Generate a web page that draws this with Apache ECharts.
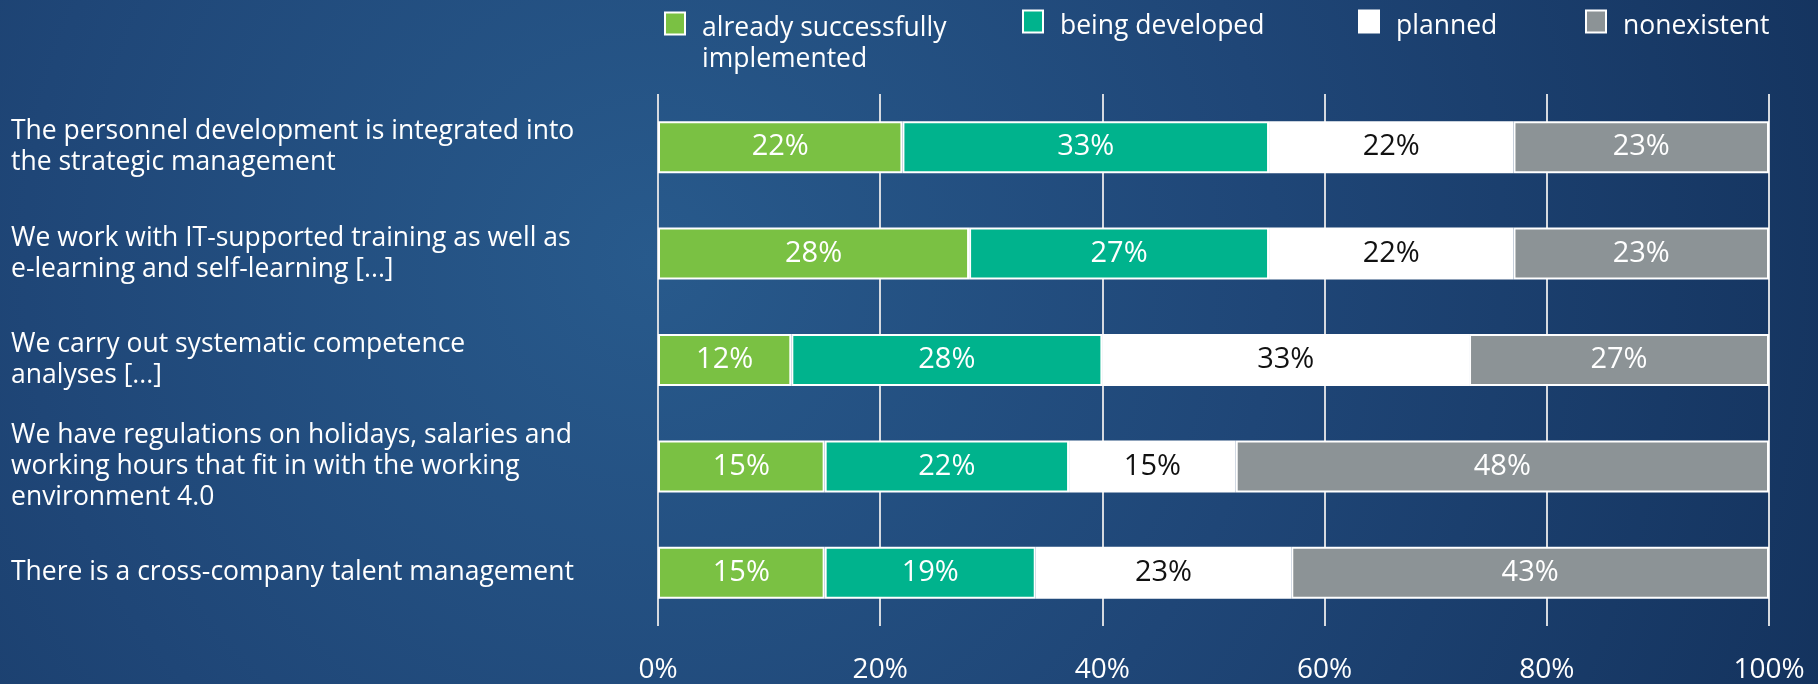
<!DOCTYPE html>
<html>
<head>
<meta charset="utf-8">
<style>
  html, body { margin: 0; padding: 0; width: 1818px; height: 684px; overflow: hidden; }
  #chart { width: 1818px; height: 684px; }
</style>
<script src="https://cdn.jsdelivr.net/npm/echarts@6/dist/echarts.min.js"></script>
</head>
<body>
<div id="chart"></div>
<script>
// Statements, top to bottom
const categories = [
  'The personnel development is integrated into\nthe strategic management',
  'We work with IT-supported training as well as\ne-learning and self-learning [...]',
  'We carry out systematic competence\nanalyses [...]',
  'We have regulations on holidays, salaries and\nworking hours that fit in with the working\nenvironment 4.0',
  'There is a cross-company talent management'
];

// Share of answers per statement (%)
const implemented = [22, 28, 12, 15, 15];
const developed   = [33, 27, 28, 22, 19];
const planned     = [22, 22, 33, 15, 23];
const nonexistent = [23, 23, 27, 48, 43];

const seriesNames = ['already successfully implemented', 'being developed', 'planned', 'nonexistent'];
const seriesColors = ['#7ac143', '#00b38d', '#ffffff', '#8c9396'];
const labelColors = ['#ffffff', '#ffffff', '#111111', '#ffffff'];
const xTicks = [0, 20, 40, 60, 80, 100];

const FONT = '"Open Sans", "Noto Sans", sans-serif';
const values = [implemented, developed, planned, nonexistent];

const chart = echarts.init(document.getElementById('chart'), null, { renderer: 'canvas' });

const legendText = {
  color: '#ffffff',
  fontFamily: FONT,
  fontSize: 26.5,
  lineHeight: 31
};

// One legend per entry so each sits at its own horizontal spot.
// Text sits a few pixels below the swatch centre; the first entry
// wraps onto two lines with its first line level with the swatch.
function makeLegend(name, left, top) {
  return {
    data: [name],
    left: left,
    top: top,
    padding: 0,
    icon: 'rect',
    itemWidth: 20,
    itemHeight: 22,
    selectedMode: false,
    itemStyle: { borderColor: '#ffffff', borderWidth: 2 },
    formatter: function (n) {
      return n === seriesNames[0]
        ? '{e| }\n{t|already successfully}\n{t|implemented}'
        : '{p|' + n + '}';
    },
    textStyle: Object.assign({}, legendText, {
      padding: [0, 0, 0, 12],
      rich: {
        t: Object.assign({}, legendText),
        e: Object.assign({}, legendText, { lineHeight: 41 }),
        p: Object.assign({}, legendText, { padding: [10, 0, 0, 0] })
      }
    })
  };
}

const option = {
  backgroundColor: {
    type: 'radial',
    x: 650, y: 260, r: 1250,
    global: true,
    colorStops: [
      { offset: 0, color: '#285a8c' },
      { offset: 0.5, color: '#1f4677' },
      { offset: 1, color: '#14335e' }
    ]
  },
  animation: false,
  legend: [
    makeLegend(seriesNames[0], 664, -28),
    makeLegend(seriesNames[1], 1022, 3),
    makeLegend(seriesNames[2], 1358, 3),
    makeLegend(seriesNames[3], 1585, 3)
  ],
  grid: { left: 658, right: 49, top: 94, bottom: 58, containLabel: false },
  xAxis: {
    type: 'value',
    min: 0,
    max: 100,
    interval: 20,
    axisLine: { show: false },
    axisTick: { show: false },
    splitLine: { show: true, lineStyle: { color: '#d5d9df', width: 2 } },
    axisLabel: {
      color: '#ffffff',
      fontFamily: FONT,
      fontSize: 28,
      margin: 30,
      formatter: function (v) { return xTicks.indexOf(v) >= 0 ? v + '%' : ''; }
    }
  },
  yAxis: {
    type: 'category',
    data: categories,
    inverse: true,
    axisLine: { show: false },
    axisTick: { show: false },
    splitLine: { show: false },
    axisLabel: {
      color: '#ffffff',
      fontFamily: FONT,
      fontSize: 26.5,
      lineHeight: 31,
      align: 'left',
      margin: 647
    }
  },
  series: seriesNames.map(function (name, i) {
    return {
      name: name,
      type: 'bar',
      stack: 'total',
      barWidth: 52,
      data: values[i],
      itemStyle: { color: seriesColors[i], borderColor: '#ffffff', borderWidth: 2 },
      label: {
        show: true,
        position: 'inside',
        formatter: '{c}%',
        color: labelColors[i],
        fontFamily: FONT,
        fontSize: 29
      }
    };
  })
};

chart.setOption(option);
</script>
</body>
</html>
